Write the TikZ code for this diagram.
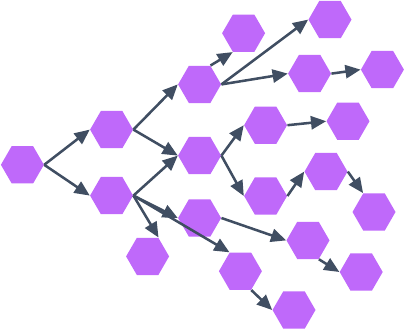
\documentclass[tikz,border=0pt]{standalone}
\usepackage{tikz}
\usetikzlibrary{shapes,arrows.meta}

\definecolor{hexpurple}{HTML}{BF69FA}
\definecolor{edgeslate}{HTML}{404E62}

\begin{document}
\begin{tikzpicture}[
            hex/.style={regular polygon, regular polygon sides=6, fill=hexpurple, minimum size=1.075cm, inner sep=0pt},
            arrow/.style={->, >={Triangle[length=3.8mm,width=3.3mm]}, line width=1.8pt, draw=edgeslate}
        ]
            \useasboundingbox (0,0) rectangle (10.1,-8.225);

            \node[hex] (h0) at (0.56,-4.12) {};
            \node[hex] (h1) at (2.79,-3.24) {};
            \node[hex] (h2) at (2.79,-4.89) {};
            \node[hex] (h3) at (4.99,-2.11) {};
            \node[hex] (h4) at (4.99,-3.89) {};
            \node[hex] (h5) at (3.69,-6.41) {};
            \node[hex] (h6) at (4.99,-5.45) {};
            \node[hex] (h7) at (6.01,-6.78) {};
            \node[hex] (h8) at (7.35,-7.75) {};
            \node[hex] (h9) at (7.70,-6.01) {};
            \node[hex] (h10) at (9.03,-6.80) {};
            \node[hex] (h11) at (6.64,-4.90) {};
            \node[hex] (h12) at (8.15,-4.29) {};
            \node[hex] (h13) at (6.64,-3.13) {};
            \node[hex] (h14) at (8.70,-3.03) {};
            \node[hex] (h15) at (9.35,-5.30) {};
            \node[hex] (h16) at (6.09,-0.83) {};
            \node[hex] (h17) at (8.25,-0.49) {};
            \node[hex] (h18) at (7.74,-1.84) {};
            \node[hex] (h19) at (9.56,-1.74) {};

            \draw[arrow] (h0.east) -- (h1.west);
            \draw[arrow] (h0.east) -- (h2.west);
            \draw[arrow] (h1.east) -- (h3.west);
            \draw[arrow] (h1.east) -- (h4.west);
            \draw[arrow] (h2.east) -- (h4.west);
            \draw[arrow] (h2.east) -- (h5.60);
            \draw[arrow] (h2.east) -- (h6.west);
            \draw[arrow] (h2.east) -- (h7.120);
            \draw[arrow] (h3.60) -- (h16.240);
            \draw[arrow] (h3.east) -- (h17.west);
            \draw[arrow] (h3.east) -- (h18.west);
            \draw[arrow] (h18.east) -- (h19.west);
            \draw[arrow] (h4.east) -- (h13.west);
            \draw[arrow] (h4.east) -- (h11.west);
            \draw[arrow] (h13.east) -- (h14.west);
            \draw[arrow] (h11.east) -- (h12.west);
            \draw[arrow] (h12.east) -- (h15.120);
            \draw[arrow] (h6.east) -- (h9.west);
            \draw[arrow] (h9.-60) -- (h10.west);
            \draw[arrow] (h7.-60) -- (h8.west);
        \end{tikzpicture}
\end{document}
